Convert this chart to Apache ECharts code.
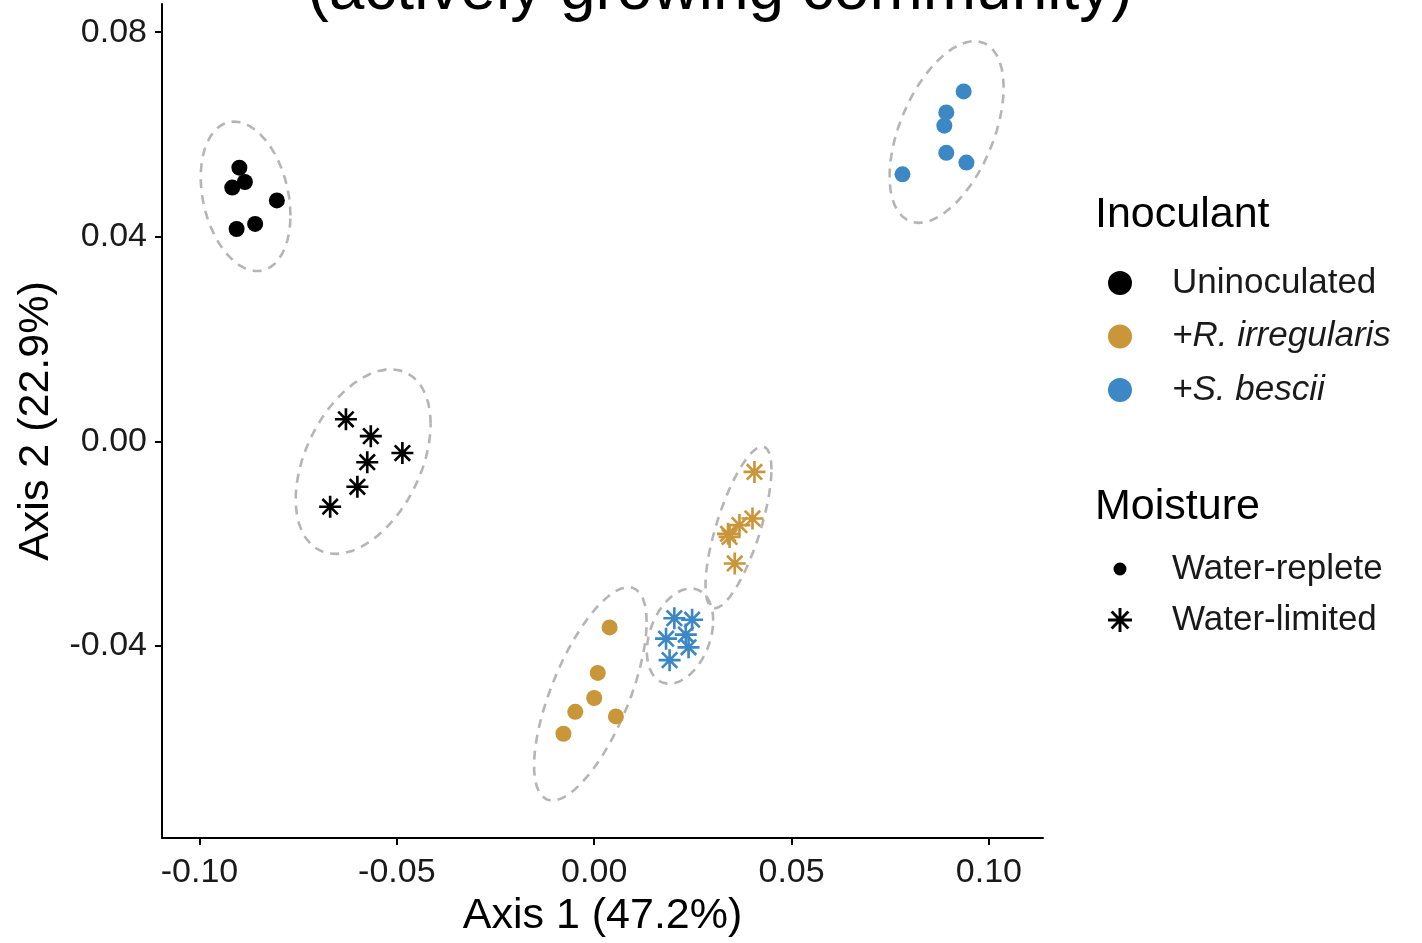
<!DOCTYPE html>
<html>
<head>
<meta charset="utf-8">
<script src="https://cdn.jsdelivr.net/npm/echarts@6/dist/echarts.min.js"></script>
<style>
html,body{margin:0;padding:0;background:#fff;}
#chart{width:1422px;height:943px;}
</style>
</head>
<body>
<div id="chart"></div>
<script>
// ---- data ----
const xTicks = [-0.10, -0.05, 0.00, 0.05, 0.10];
const yTicks = [-0.04, 0.00, 0.04, 0.08];
const xRange = [-0.1095, 0.1137];
const yRange = [-0.0776, 0.0855];

const inoculants = ['Uninoculated', '+R. irregularis', '+S. bescii'];
const moistures = ['Water-replete', 'Water-limited'];
const inocColors = ['#000000', '#C9963A', '#3B88C5'];

const uninocRepleteX = [-0.0899, -0.0885, -0.0917, -0.0804, -0.0906, -0.0859];
const uninocRepleteY = [0.0535, 0.0507, 0.0496, 0.0471, 0.0415, 0.0425];
const uninocLimitedX = [-0.0629, -0.0566, -0.0486, -0.0575, -0.0600, -0.0669];
const uninocLimitedY = [0.0043, 0.0010, -0.0023, -0.0041, -0.0089, -0.0128];
const rirrRepleteX = [0.0039, 0.0009, 0.0000, -0.0048, 0.0055, -0.0078];
const rirrRepleteY = [-0.0364, -0.0453, -0.0502, -0.0529, -0.0538, -0.0572];
const rirrLimitedX = [0.0406, 0.0401, 0.0368, 0.0339, 0.0343, 0.0356];
const rirrLimitedY = [-0.0060, -0.0151, -0.0164, -0.0181, -0.0187, -0.0239];
const sbesRepleteX = [0.0936, 0.0892, 0.0887, 0.0892, 0.0943, 0.0781];
const sbesRepleteY = [0.0684, 0.0643, 0.0617, 0.0564, 0.0545, 0.0522];
const sbesLimitedX = [0.0203, 0.0248, 0.0232, 0.0182, 0.0239, 0.0191];
const sbesLimitedY = [-0.0346, -0.0349, -0.0378, -0.0386, -0.0403, -0.0428];

const groups = [
  {inoc: 0, moist: 0, x: uninocRepleteX, y: uninocRepleteY},
  {inoc: 0, moist: 1, x: uninocLimitedX, y: uninocLimitedY},
  {inoc: 1, moist: 0, x: rirrRepleteX, y: rirrRepleteY},
  {inoc: 1, moist: 1, x: rirrLimitedX, y: rirrLimitedY},
  {inoc: 2, moist: 0, x: sbesRepleteX, y: sbesRepleteY},
  {inoc: 2, moist: 1, x: sbesLimitedX, y: sbesLimitedY}
];

// ---- styling ----
const FONT = '"Liberation Sans", Arial, Helvetica, sans-serif';
const STAR = 'path://M44,0L56,0L56,100L44,100Z M0,44L100,44L100,56L0,56Z ' +
  'M19.24,10.76L89.24,80.76L80.76,89.24L10.76,19.24Z ' +
  'M80.76,10.76L89.24,19.24L19.24,89.24L10.76,80.76Z';
const DOT = 'path://M0,0M100,100M77,50A27,27,0,1,1,23,50A27,27,0,1,1,77,50Z';

// ---- ellipse like ggplot2 stat_ellipse (type "t", level 0.95) ----
function covTrob(pts) {
  const n = pts.length, p = 2, nu = 5;
  let loc = [pts.reduce((s, q) => s + q[0], 0) / n, pts.reduce((s, q) => s + q[1], 0) / n];
  let w = new Array(n).fill(1);
  let X = null;
  for (let iter = 0; iter < 25; iter++) {
    const w0 = w.slice();
    X = pts.map(q => [q[0] - loc[0], q[1] - loc[1]]);
    const sw = w.reduce((a, b) => a + b, 0);
    let a = 0, b = 0, c = 0;
    for (let i = 0; i < n; i++) {
      a += w[i] * X[i][0] * X[i][0] / sw;
      b += w[i] * X[i][0] * X[i][1] / sw;
      c += w[i] * X[i][1] * X[i][1] / sw;
    }
    const det = a * c - b * b;
    w = X.map(v => (nu + p) / (nu + (c * v[0] * v[0] - 2 * b * v[0] * v[1] + a * v[1] * v[1]) / det));
    const sw2 = w.reduce((s, v) => s + v, 0);
    loc = [pts.reduce((s, q, i) => s + w[i] * q[0], 0) / sw2, pts.reduce((s, q, i) => s + w[i] * q[1], 0) / sw2];
    if (w.every((v, i) => Math.abs(v - w0[i]) < 0.01)) break;
  }
  let a = 0, b = 0, c = 0;
  for (let i = 0; i < n; i++) {
    a += w[i] * X[i][0] * X[i][0] / n;
    b += w[i] * X[i][0] * X[i][1] / n;
    c += w[i] * X[i][1] * X[i][1] / n;
  }
  return {center: loc, cov: [[a, b], [b, c]]};
}
function ellipsePoints(xs, ys, level) {
  const pts = xs.map((x, i) => [x, ys[i]]);
  const d = pts.length - 1;
  const fq = d / 2 * (Math.pow(1 - level, -2 / d) - 1); // qf(level, 2, d)
  const radius = Math.sqrt(2 * fq);
  const {center, cov} = covTrob(pts);
  const r11 = Math.sqrt(cov[0][0]);
  const r12 = cov[0][1] / r11;
  const r22 = Math.sqrt(cov[1][1] - r12 * r12);
  const out = [];
  const seg = 51;
  for (let k = 0; k <= seg; k++) {
    const t = k * 2 * Math.PI / seg;
    const ct = Math.cos(t), st = Math.sin(t);
    out.push([center[0] + radius * ct * r11, center[1] + radius * (ct * r12 + st * r22)]);
  }
  return out;
}

const series = [];
groups.forEach((g, gi) => {
  series.push({
    name: 'ellipse' + gi,
    type: 'line',
    data: ellipsePoints(g.x, g.y, 0.95),
    showSymbol: false,
    symbol: 'none',
    smooth: false,
    silent: true,
    z: 1,
    lineStyle: {color: '#B5B5B5', width: 2.6, type: [9, 7]}
  });
});
groups.forEach((g, gi) => {
  const isStar = g.moist === 1;
  series.push({
    name: inoculants[g.inoc] + ' / ' + moistures[g.moist],
    type: 'scatter',
    data: g.x.map((x, i) => [x, g.y[i]]),
    symbol: isStar ? STAR : 'circle',
    symbolSize: isStar ? 22 : 16,
    z: 3,
    itemStyle: {color: inocColors[g.inoc], opacity: 1}
  });
});
// legend-only series
inoculants.forEach((nm, i) => {
  series.push({name: nm, type: 'scatter', data: [], itemStyle: {color: inocColors[i], opacity: 1}});
});
moistures.forEach((nm) => {
  series.push({name: nm, type: 'scatter', data: [], itemStyle: {color: '#000', opacity: 1}});
});

const chart = echarts.init(document.getElementById('chart'));
chart.setOption({
  animation: false,
  backgroundColor: '#ffffff',
  grid: {left: 162, right: 379, top: 4, bottom: 98, containLabel: false},
  xAxis: {
    type: 'value', min: xRange[0], max: xRange[1],
    name: 'Axis 1 (47.2%)', nameLocation: 'middle', nameGap: 53,
    nameTextStyle: {fontSize: 43, color: '#000', fontFamily: FONT},
    axisLine: {onZero: false, lineStyle: {color: '#000', width: 2}},
    axisTick: {customValues: xTicks, length: 7, lineStyle: {color: '#000', width: 2}},
    axisLabel: {customValues: xTicks, formatter: v => v.toFixed(2), fontSize: 34, color: '#1a1a1a', margin: 18, fontFamily: FONT},
    splitLine: {show: false}
  },
  yAxis: {
    type: 'value', min: yRange[0], max: yRange[1],
    name: 'Axis 2 (22.9%)', nameLocation: 'middle', nameGap: 104,
    nameTextStyle: {fontSize: 43, color: '#000', fontFamily: FONT},
    axisLine: {onZero: false, lineStyle: {color: '#000', width: 2}},
    axisTick: {customValues: yTicks, length: 7, lineStyle: {color: '#000', width: 2}},
    axisLabel: {customValues: yTicks, formatter: v => v.toFixed(2), fontSize: 34, color: '#1a1a1a', margin: 15, fontFamily: FONT},
    splitLine: {show: false}
  },
  legend: [
    {
      data: inoculants.map(n => ({name: n, icon: 'circle'})),
      orient: 'vertical', left: 1103, top: 260,
      itemWidth: 24, itemHeight: 24, itemGap: 17.5,
      selectedMode: false,
      formatter: n => n.startsWith('+') ? '{i|' + n + '}' : n,
      textStyle: {
        fontSize: 35, lineHeight: 36, color: '#1a1a1a', fontFamily: FONT, padding: [0, 0, 0, 35],
        rich: {i: {fontStyle: 'italic', fontSize: 35, color: '#1a1a1a', fontFamily: FONT}}
      }
    },
    {
      data: [{name: moistures[0], icon: DOT}, {name: moistures[1], icon: STAR}],
      orient: 'vertical', left: 1103, top: 546,
      itemWidth: 24, itemHeight: 24, itemGap: 15,
      selectedMode: false,
      textStyle: {fontSize: 35, lineHeight: 36, color: '#1a1a1a', fontFamily: FONT, padding: [0, 0, 0, 35]}
    }
  ],
  graphic: [
    {type: 'text', x: 720, y: -9, silent: true,
      style: {text: '(actively growing community)', font: '64px ' + FONT, fill: '#000', align: 'center', verticalAlign: 'middle'}},
    {type: 'text', x: 1095, y: 215, silent: true,
      style: {text: 'Inoculant', font: '43px ' + FONT, fill: '#000', align: 'left', verticalAlign: 'middle'}},
    {type: 'text', x: 1095, y: 507, silent: true,
      style: {text: 'Moisture', font: '43px ' + FONT, fill: '#000', align: 'left', verticalAlign: 'middle'}}
  ],
  series: series
});
</script>
</body>
</html>
